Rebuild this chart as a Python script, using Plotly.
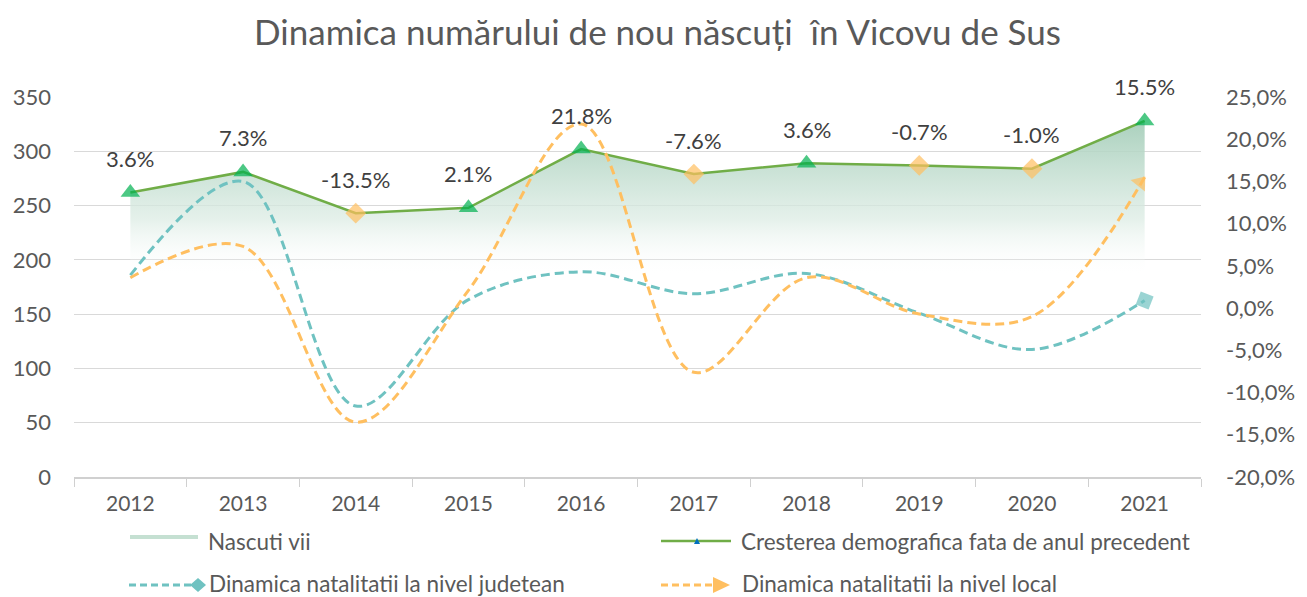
import plotly.graph_objects as go

years = ["2012", "2013", "2014", "2015", "2016", "2017", "2018", "2019", "2020", "2021"]
nascuti_vii = [262, 281, 243, 248, 302, 279, 289, 287, 284, 328]
crestere_pct = [3.6, 7.3, -13.5, 2.1, 21.8, -7.6, 3.6, -0.7, -1.0, 15.5]
dinamica_judet_pct = [3.9, 15.0, -11.6, 1.0, 4.3, 1.7, 4.1, -0.6, -4.9, 0.9]
dinamica_local_pct = [3.6, 7.3, -13.5, 2.1, 21.8, -7.6, 3.6, -0.7, -1.0, 15.5]
left_ticks = [0, 50, 100, 150, 200, 250, 300, 350]
right_ticks = [-20, -15, -10, -5, 0, 5, 10, 15, 20, 25]

FONT = "Lato"
TXT = "#595959"
GREEN_LINE = "#70ad47"
GREEN_MK = "#00b050"
ORANGE = "#ffbf60"
TEAL = "#6fc2c1"

# page body has an 8px margin: figure is drawn 8px smaller and everything is in absolute page pixels
OFF = 8
FIG_W, FIG_H = 1307 - OFF, 597 - OFF
L, R_EDGE, TOP, B = 74, 1201, 97, 477  # absolute page pixels of plot area
W, H = R_EDGE - L, B - TOP

fig = go.Figure()

fig.add_trace(go.Scatter(
    x=years, y=nascuti_vii, mode="lines", fill="tozeroy",
    line=dict(width=0, color="rgba(0,0,0,0)"),
    fillgradient=dict(type="vertical", start=185, stop=335,
                      colorscale=[[0, "rgba(255,255,255,0)"], [0.35, "rgba(220,236,228,0.75)"],
                                  [1, "rgba(160,203,181,0.95)"]]),
    showlegend=False, hoverinfo="skip"))

n = len(years)
fig.add_trace(go.Scatter(
    x=years, y=dinamica_judet_pct, yaxis="y2", mode="lines+markers",
    line=dict(color=TEAL, width=3, dash="9px,5px", shape="spline", smoothing=1),
    marker=dict(symbol="diamond", size=[0] * (n - 1) + [15], color=TEAL, angleref="previous",
                line=dict(width=0)),
    showlegend=False))

fig.add_trace(go.Scatter(
    x=years, y=dinamica_local_pct, yaxis="y2", mode="lines+markers",
    line=dict(color=ORANGE, width=3, dash="9px,5px", shape="spline", smoothing=1),
    marker=dict(symbol="triangle-up", size=[0] * (n - 1) + [16], color=ORANGE, angleref="previous",
                standoff=7, line=dict(width=0)),
    showlegend=False))

symbols = ["triangle-up" if g >= 0 else "diamond" for g in crestere_pct]
colors = [GREEN_MK if g >= 0 else ORANGE for g in crestere_pct]
sizes = [17 if g >= 0 else 16 for g in crestere_pct]
fig.add_trace(go.Scatter(
    x=years, y=nascuti_vii, mode="lines+markers",
    line=dict(color=GREEN_LINE, width=2.5),
    marker=dict(symbol=symbols, color=colors, size=sizes, line=dict(width=0)),
    showlegend=False))

for i, (v, g) in enumerate(zip(nascuti_vii, crestere_pct)):
    fig.add_annotation(x=i, y=v, xref="x", yref="y", text=f"{g:.1f}%", showarrow=False, yshift=34,
                       font=dict(family=FONT, size=22, color="#404040"))

def px(x):
    return (x - L) / W
def py(y):
    return (B - y) / H

shapes = []
def seg(x0, x1, y, color, width, dash="solid"):
    shapes.append(dict(type="line", xref="paper", yref="paper", x0=px(x0), x1=px(x1),
                       y0=py(y), y1=py(y), line=dict(color=color, width=width, dash=dash)))
def poly(pts, color):
    path = "M " + " L ".join(f"{px(a):.5f},{py(b):.5f}" for a, b in pts) + " Z"
    shapes.append(dict(type="path", xref="paper", yref="paper", path=path,
                       fillcolor=color, line=dict(width=0)))

seg(130, 198, 537, "#c5e0d2", 4)
seg(661, 731, 541, GREEN_LINE, 2.5)
poly([(694, 544), (700, 544), (697, 538)], "#0070c0")
seg(129, 191, 585, TEAL, 3, "7px,4px")
poly([(198, 578), (206, 585), (198, 592), (190, 585)], TEAL)
seg(661, 714, 585, ORANGE, 3, "7px,4px")
poly([(713, 577), (730, 585), (713, 593)], ORANGE)

leg_items = [("Nascuti vii", 206, 541), ("Cresterea demografica fata de anul precedent", 739, 541),
             ("Dinamica natalitatii la nivel judetean", 207, 583), ("Dinamica natalitatii la nivel local", 740, 583)]
for t, x, y in leg_items:
    fig.add_annotation(xref="paper", yref="paper", x=px(x), y=py(y), text=t, showarrow=False,
                       xanchor="left", yanchor="middle", font=dict(family=FONT, size=22.5, color=TXT))

fig.update_layout(
    width=FIG_W, height=FIG_H,
    margin=dict(l=L - OFF, r=FIG_W - (R_EDGE - OFF), t=TOP - OFF, b=FIG_H - (B - OFF), autoexpand=False),
    paper_bgcolor="white", plot_bgcolor="white",
    title=dict(text="Dinamica numărului de nou născuți  în Vicovu de Sus", x=0.5, xanchor="center",
               y=1 - (33 - OFF) / FIG_H, yanchor="middle", font=dict(family=FONT, size=35, color=TXT)),
    font=dict(family=FONT, color=TXT, size=22),
    shapes=shapes,
    xaxis=dict(type="category", range=[-0.5, 9.5], showgrid=False, showline=True, linecolor="#d0d0d0",
               linewidth=1.5, ticks="outside", tickson="boundaries", ticklen=8, tickcolor="#d0d0d0",
               tickfont=dict(family=FONT, size=21, color=TXT), ticklabelstandoff=7, zeroline=False,
               automargin=False),
    yaxis=dict(range=[0, 350], tickvals=left_ticks, ticktext=[str(v) for v in left_ticks],
               showgrid=True, gridcolor="#d9d9d9", gridwidth=1.2, zeroline=False, showline=False,
               tickfont=dict(family=FONT, size=22, color=TXT), ticklabelstandoff=22, automargin=False),
    yaxis2=dict(range=[-20, 25], overlaying="y", side="right", tickvals=right_ticks,
                ticktext=[f"{v},0%" for v in right_ticks], showgrid=False, zeroline=False, showline=False,
                tickfont=dict(family=FONT, size=22, color=TXT), ticklabelstandoff=24, automargin=False),
    showlegend=False,
)

fig.write_html("out.html")
